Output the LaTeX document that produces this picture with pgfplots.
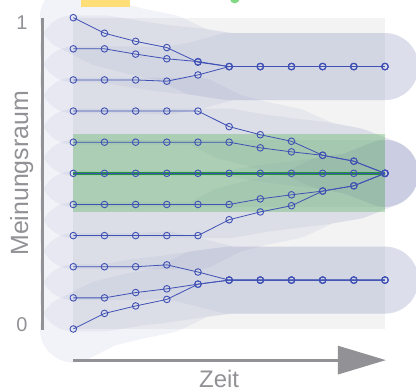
\documentclass[border=0pt]{standalone}
\usepackage{fontspec}
\setmainfont{Liberation Sans}
\usepackage{pgfplots}
\usepackage{pgfplotstable}
\pgfplotsset{compat=1.18}
\usetikzlibrary{arrows.meta}
\definecolor{traj}{RGB}{63,81,181}
\definecolor{band}{RGB}{130,136,185}
\definecolor{bg}{RGB}{243,243,243}
\definecolor{grn}{RGB}{76,175,80}
\definecolor{grnline}{RGB}{35,150,60}
\definecolor{axgray}{RGB}{145,145,150}
\definecolor{ylw}{RGB}{255,222,120}
\definecolor{dotgreen}{RGB}{130,215,130}

\pgfplotstableread{
t  a10   a9    a8    a7    a6    a5    a4    a3    a2    a1    a0
0  1.000 0.900 0.800 0.700 0.600 0.500 0.400 0.300 0.200 0.100 0.000
1  0.950 0.900 0.800 0.700 0.600 0.500 0.400 0.300 0.200 0.100 0.050
2  0.924 0.883 0.800 0.700 0.600 0.500 0.400 0.300 0.200 0.117 0.074
3  0.904 0.868 0.796 0.700 0.600 0.500 0.400 0.300 0.206 0.129 0.095
4  0.857 0.859 0.816 0.700 0.600 0.500 0.400 0.300 0.183 0.144 0.144
5  0.843 0.843 0.843 0.650 0.600 0.500 0.400 0.351 0.157 0.157 0.157
6  0.843 0.843 0.843 0.624 0.582 0.500 0.418 0.376 0.157 0.157 0.157
7  0.843 0.843 0.843 0.603 0.569 0.500 0.431 0.396 0.157 0.157 0.157
8  0.843 0.843 0.843 0.558 0.558 0.500 0.443 0.443 0.157 0.157 0.157
9  0.843 0.843 0.843 0.539 0.539 0.500 0.460 0.460 0.157 0.157 0.157
10 0.843 0.843 0.843 0.500 0.500 0.500 0.500 0.500 0.157 0.157 0.157
}\agents

\begin{document}
\begin{tikzpicture}
\begin{axis}[
  scale only axis, width=416bp, height=392bp,
  axis lines=none,
  xmin=-2.352, xmax=10.995, ymin=-0.2024, ymax=1.0568,
  clip=true,
]
% background
\addplot[fill=bg, draw=none] coordinates {(0,0) (10,0) (10,1) (0,1)} --cycle;
% confidence bands
\foreach \c in {a10,a9,a8,a7,a6,a5,a4,a3,a2,a1,a0}{
  \addplot[band, opacity=0.1, line width=67bp, line cap=round, line join=round, no marks] table[x=t,y=\c] {\agents};
}
% green region
\addplot[fill=grn, fill opacity=0.33, draw=none] coordinates {(0,0.375) (10,0.375) (10,0.625) (0,0.625)} --cycle;
\addplot[grnline, line width=3bp, no marks] coordinates {(0,0.5) (10,0.5)};
% trajectories
\foreach \c in {a10,a9,a8,a7,a6,a5,a4,a3,a2,a1,a0}{
  \addplot[traj, line width=0.8bp, mark=o, mark size=3.3bp, mark options={line width=0.9bp, solid}] table[x=t,y=\c] {\agents};
}
% decorations at the top (cut off)
\fill[ylw] (axis cs:0.25,1.0343) rectangle (axis cs:1.82,1.08);
\fill[dotgreen] (axis cs:5.18,1.062) circle[radius=5bp];
% axes
\draw[axgray, line width=3bp] (axis cs:-1,1) -- (axis cs:-1,-0.003);
\draw[axgray, line width=3bp, -{Triangle[length=48bp,width=28bp]}] (axis cs:0,-0.1) -- (axis cs:10.03,-0.1);
% labels
\node[text=axgray, font=\fontsize{20}{22}\selectfont] at (axis cs:-1.645,0.9835) {1};
\node[text=axgray, font=\fontsize{20}{22}\selectfont] at (axis cs:-1.645,0.013) {0};
\node[text=axgray, font=\fontsize{25}{28}\selectfont, rotate=90] at (axis cs:-1.66,0.5) {Meinungsraum};
\node[text=axgray, font=\fontsize{24}{28}\selectfont] at (axis cs:4.68,-0.1606) {Zeit};
\end{axis}
\pgfresetboundingbox
\path[use as bounding box] (current axis.south west) rectangle (current axis.north east);
\end{tikzpicture}
\end{document}
